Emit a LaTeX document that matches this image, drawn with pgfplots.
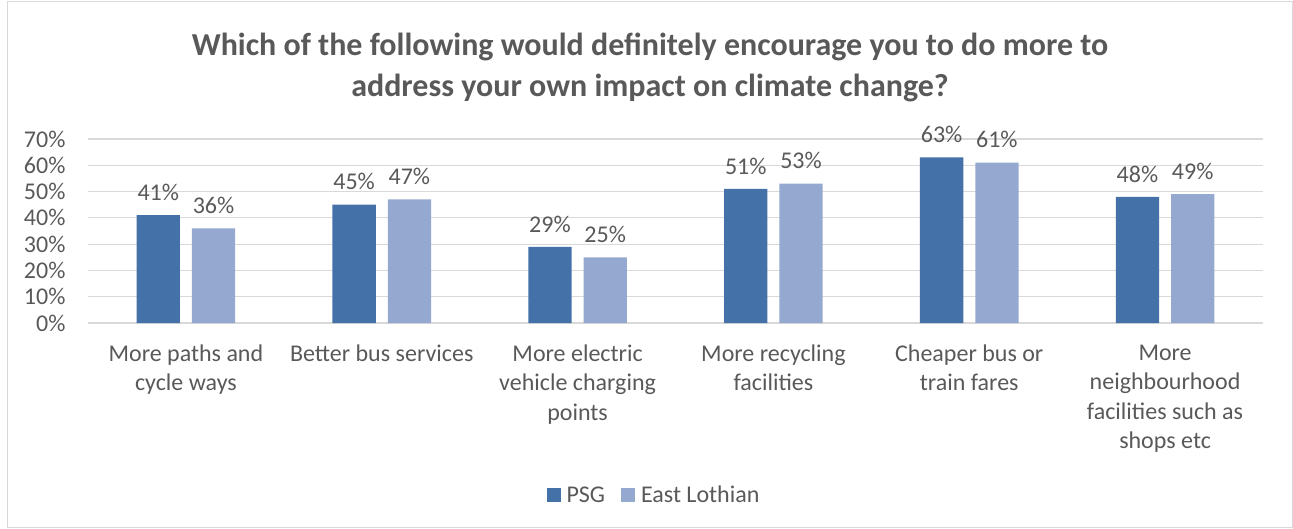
\documentclass[border=0pt]{standalone}
\usepackage{pgfplots}
\pgfplotsset{compat=1.18}
\usepackage{fontspec}
\setmainfont{Carlito}
\definecolor{psg}{HTML}{4472A8}
\definecolor{elc}{HTML}{95A9D0}
\definecolor{txt}{HTML}{595959}
\definecolor{gridc}{HTML}{D9D9D9}
\begin{document}
\begin{tikzpicture}
\path (0pt,0pt) rectangle (1293pt,528pt);
\draw[gridc] (7pt,1pt) rectangle (1292pt,527pt);
\node[font=\fontsize{32}{41}\selectfont\bfseries, text=txt, align=center] at (650pt,460.5pt)
 {Which of the following would definitely encourage you to do more to\\address your own impact on climate change?};
\begin{axis}[
  at={(88pt,205pt)}, anchor=south west,
  scale only axis, width=1175pt, height=184pt,
  ymin=0, ymax=70, ytick={0,10,...,70},
  xmin=-0.5, xmax=5.5,
  xtick={0,...,5},
  xticklabels={{More paths and\\cycle ways},{Better bus services},{More electric\\vehicle charging\\points},{More recycling\\facilities},{Cheaper bus or\\train fares},{More\\neighbourhood\\facilities such as\\shops etc}},
  xticklabel style={align=center, font=\fontsize{24}{29.5}\selectfont, text=txt, yshift=-14pt},
  yticklabel={\pgfmathprintnumber{\tick}\%},
  yticklabel style={font=\fontsize{24}{26}\selectfont, text=txt, xshift=-19pt},
  /pgf/number format/assume math mode=true,
  ymajorgrids, xmajorgrids=false, grid style={draw=gridc, line width=1.2pt},
  axis line style={draw=none},
  major tick style={draw=none},
  ybar=12pt, bar width=43.3pt,
  nodes near coords={\pgfmathprintnumber{\pgfplotspointmeta}\%},
  nodes near coords style={font=\fontsize{24}{26}\selectfont, text=txt, yshift=11pt},
  legend style={at={(0.4817,-0.935)}, anchor=center, draw=none, legend columns=2,
     font=\fontsize{24}{26}\selectfont, text=txt,
     /tikz/every even column/.append style={column sep=14pt}},
  legend image code/.code={\fill[#1] (0pt,-7pt) rectangle (14pt,7pt); \path (18pt,0pt);},
  clip=false,
]
\draw[gridc, line width=1.2pt] (axis cs:-0.5,0) -- (axis cs:5.5,0);
\addplot[fill=psg, draw=none] coordinates {(0,41) (1,45) (2,29) (3,51) (4,63) (5,48)};
\addplot[fill=elc, draw=none] coordinates {(0,36) (1,47) (2,25) (3,53) (4,61) (5,49)};
\legend{PSG, East Lothian}
\end{axis}
\end{tikzpicture}
\end{document}
